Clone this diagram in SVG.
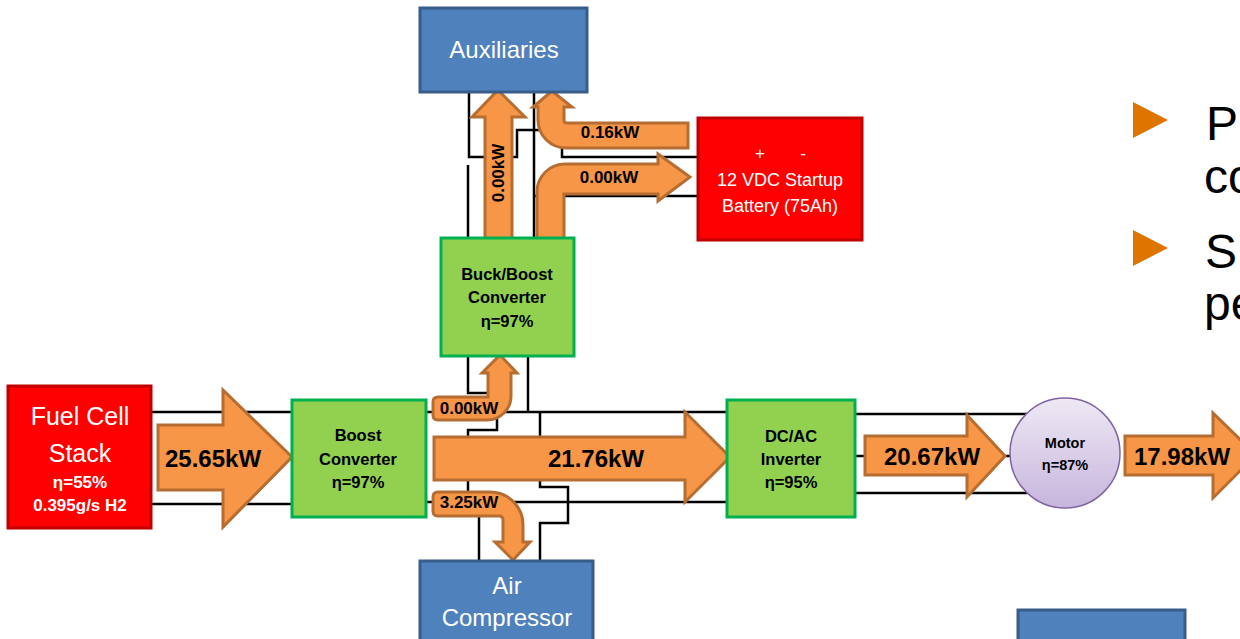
<svg xmlns="http://www.w3.org/2000/svg" width="1240" height="639" viewBox="0 0 1240 639">
<style>
.w{fill:none;stroke:#000;stroke-width:2.5}
.ar{fill:#F79646;stroke:#B66D31;stroke-width:3;stroke-linejoin:miter}
.g{fill:#92D050;stroke:#00B050;stroke-width:3}
.r{fill:#FF0000;stroke:#C00000;stroke-width:3}
.b{fill:#4F81BD;stroke:#385D8A;stroke-width:3}
text{font-family:"Liberation Sans",Arial,sans-serif;text-anchor:middle}
.tb{font-weight:bold;font-size:16.5px;fill:#000}
.lb{font-weight:bold;font-size:24px;fill:#000}
.sl{font-weight:bold;font-size:17px;fill:#000}
.wt{fill:#fff}
.big{font-size:48px;fill:#000;text-anchor:start}
</style>
<defs>
<linearGradient id="mg" x1="0" y1="0" x2="0" y2="1">
<stop offset="0" stop-color="#EEE9F4"/>
<stop offset="1" stop-color="#C7B5DD"/>
</linearGradient>
</defs>
<rect width="1240" height="639" fill="#fff"/>
<g id="connectors">
<path class="w" d="M151 412H291M151 504H291"/>
<path class="w" d="M425 412H727M425 502H727"/>
<path class="w" d="M855 414H1027M855 456H1010M855 493H1027"/>
<path class="w" d="M528 356V412"/>
<path class="w" d="M468 356V393H497V430H468V502"/>
<path class="w" d="M540 412V487H568V523H540V561"/>
<path class="w" d="M479 502V561"/>
<path class="w" d="M534 92V238"/>
<path class="w" d="M469 92V157H517V130H562V157H698"/>
<path class="w" d="M534 196H698"/>
<path class="w" d="M468 238V165"/>
</g>
<g id="flows">
<path class="ar" d="M158 425H223V390L292 457L223 527V490H158Z"/>
<path class="ar" d="M434 437H685V412L730 457L685 502V480H434Z"/>
<path class="ar" d="M865 436H967V415L1005 456L967 497V475H865Z"/>
<path class="ar" d="M1125 436H1213V413L1256 455L1213 498V475H1125Z"/>
<path class="ar" d="M498 90L525 117H512V240H485V117H472Z"/>
<path class="ar" d="M552 91L572 107H564V120Q564 123 567 123H688V148H566A28 28 0 0 1 538 120V107H533Z"/>
<path class="ar" d="M537 240V192A28 28 0 0 1 565 164H658V154L690 177L658 201V194H564V240Z"/>
<path class="ar" d="M500 355L517 373H511V396A24 24 0 0 1 487 420H438Q433 420 433 415V402Q433 397 438 397H488V373H482Z"/>
<path class="ar" d="M433 497Q433 492 438 492H490A33 33 0 0 1 523 525V542H530L513 560L495 542H503V520Q503 516 499 516H438Q433 516 433 511Z"/>
<text class="lb" x="213" y="467">25.65kW</text>
<text class="lb" x="596" y="467">21.76kW</text>
<text class="lb" x="932" y="465">20.67kW</text>
<text class="lb" x="1182" y="465">17.98kW</text>
<text class="sl" x="610" y="138">0.16kW</text>
<text class="sl" x="609" y="183">0.00kW</text>
<text class="sl" x="469" y="414">0.00kW</text>
<text class="sl" x="469" y="508">3.25kW</text>
<text class="sl" transform="translate(504 173) rotate(-90)">0.00kW</text>
</g>
<g id="auxiliaries">
<rect class="b" x="420" y="8" width="167" height="84"/>
<text class="wt" x="504" y="58" font-size="24">Auxiliaries</text>
</g>
<g id="battery">
<rect class="r" x="698" y="118" width="164" height="122"/>
<text class="wt" x="760" y="159" font-size="17">+</text>
<text class="wt" x="803" y="159" font-size="17">-</text>
<text class="wt" x="780" y="186" font-size="18">12 VDC Startup</text>
<text class="wt" x="780" y="212" font-size="18">Battery (75Ah)</text>
</g>
<g id="buckboost">
<rect class="g" x="441" y="238" width="133" height="118"/>
<text class="tb" x="507" y="280">Buck/Boost</text>
<text class="tb" x="507" y="303">Converter</text>
<text class="tb" x="507" y="327">η=97%</text>
</g>
<g id="fuelcell">
<rect class="r" x="8" y="386" width="143" height="142"/>
<text class="wt" x="80" y="425" font-size="25">Fuel Cell</text>
<text class="wt" x="80" y="462" font-size="25">Stack</text>
<text class="wt" x="80" y="488" font-size="17" font-weight="bold">η=55%</text>
<text class="wt" x="80" y="511" font-size="17" font-weight="bold">0.395g/s H2</text>
</g>
<g id="boost">
<rect class="g" x="292" y="400" width="134" height="117"/>
<text class="tb" x="358" y="441">Boost</text>
<text class="tb" x="358" y="465">Converter</text>
<text class="tb" x="358" y="488">η=97%</text>
</g>
<g id="inverter">
<rect class="g" x="727" y="400" width="128" height="117"/>
<text class="tb" x="791" y="442">DC/AC</text>
<text class="tb" x="791" y="465">Inverter</text>
<text class="tb" x="791" y="488">η=95%</text>
</g>
<g id="motor">
<circle cx="1065" cy="453" r="55" fill="url(#mg)" stroke="#8064A2" stroke-width="1.5"/>
<text x="1065" y="448" font-size="14.5" font-weight="bold">Motor</text>
<text x="1065" y="470" font-size="14.5" font-weight="bold">η=87%</text>
</g>
<g id="compressor">
<rect class="b" x="420" y="561" width="173" height="90"/>
<text class="wt" x="507" y="594" font-size="24">Air</text>
<text class="wt" x="507" y="626" font-size="24">Compressor</text>
</g>
<g id="bluebox">
<rect class="b" x="1018" y="610" width="167" height="40"/>
</g>
<g id="bullets">
<path d="M1133 102L1168 120L1133 138Z" fill="#DD7500"/>
<path d="M1133 230L1168 248L1133 266Z" fill="#DD7500"/>
<text class="big" x="1206" y="140">P</text>
<text class="big" x="1204" y="193">co</text>
<text class="big" x="1205" y="268">S</text>
<text class="big" x="1204" y="320">pe</text>
</g>
</svg>
